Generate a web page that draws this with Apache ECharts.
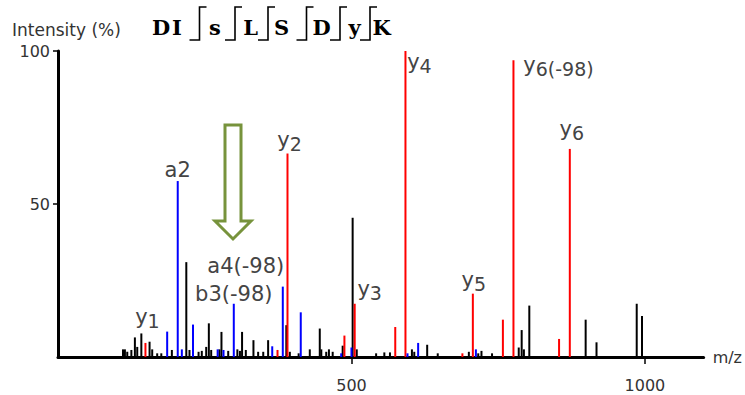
<!DOCTYPE html>
<html><head><meta charset="utf-8">
<script src="https://cdn.jsdelivr.net/npm/echarts@6.0.0/dist/echarts.min.js"></script>
<style>html,body{margin:0;padding:0;background:#fff}#c{width:745px;height:395px}</style>
</head><body><div id="c"></div>
<script>
// ---- data ----
const blackMz = [110.7,114,118,125,131,135,142,156,160.5,169,176,194,218.6,224,239.5,245,252.5,257,261,275,278.5,290,305.6,310,313.6,320,333,341,349.7,358,389,395,410,429,446,448.6,457,461.6,468,485,502,509,542,556,565.6,603,607,629,647,700,716,721.5,739.5,785,790,793.8,803,899,917.5,986,995];
const blackInt = [2.5,2.5,1.7,2.3,6.4,3.3,7.7,5,2.5,1.2,1.2,2.3,31,2.3,1.7,2,3.3,11,2.3,2.5,8.2,2,2.5,2,8.2,2.3,5.5,1.7,1.7,5.5,10.4,1.7,1.2,2.5,9.3,2.5,1.7,2.5,1.7,3.7,45.5,2.5,1.2,1.5,1.5,2.5,1.7,4,1.2,1.7,1.2,2,1.2,3.1,8.8,2.5,16.8,12.2,4.8,17.4,13.4];
const redMz = [149,374,391,488,505.5,574.6,592,689,706.8,758,776,853.7,872];
const redInt = [4.6,2.3,66.5,7,17.4,9.8,100,1.2,20.7,12.2,97,5.9,68];
const blueMz = [186,204,211,230,272,282,299.5,365,383,413.6,482.5,500,595.5,613.6,712];
const blueInt = [8.3,57.5,2.5,10.6,2.5,2.3,17.4,3.5,23,14.6,1.2,3.1,1.2,4.6,2.5];
// labelled fragment ions: m/z of the peak and its annotation
const ionMz = [149,204,391,505.5,592,706.8,776,872,383,299.5];
const ionText = ['y1','a2','y2','y3','y4','y5','y6(-98)','y6','a4(-98)','b3(-98)'];
const xTicks = [500,1000];
const yTicks = [50,100];
const sequence = ['D','I','s','L','S','D','y','K'];

// ---- styles / layout ----
const labelOffset = {
  'y1':[2,-12],'a2':[0,-1],'y2':[2,0],'y3':[15,-1],'y4':[14,24],'y5':[1,0],
  'y6(-98)':[45,18],'y6':[2,-6],'a4(-98)':[-37,-10],'b3(-98)':[0,1]
};
const FONT = 'DejaVu Sans';
function richText(t){
  const m = t.match(/^([a-z])(\d+)(.*)$/);
  if (m[1] === 'y') return '{n|' + m[1] + '}{s|' + m[2] + m[3] + '}';
  return '{n|' + t + '}';
}
function makeItems(mz, inten, color){
  return mz.map((x,i)=>{
    const item = {value:[x, inten[i]], itemStyle:{color}};
    const li = ionMz.indexOf(x);
    if (li >= 0 && ((color==='#ff0000') === ionText[li].startsWith('y'))) {
      const t = ionText[li];
      item.label = {show:true, position:'top', distance:0, offset:labelOffset[t],
        formatter: richText(t),
        rich:{ n:{fontFamily:FONT,fontSize:21,color:'#444'},
               s:{fontFamily:FONT,fontSize:19,color:'#444',padding:[8,0,0,0]} }};
    }
    return item;
  });
}
const data = [].concat(makeItems(blackMz,blackInt,'#000000'),
                       makeItems(redMz,redInt,'#ff0000'),
                       makeItems(blueMz,blueInt,'#0000ff'));
const letterX = [161,177,215,250.5,281.5,321.5,354.5,381.5];
const bracketX = [199.5,235,268,306.5,340,370];
const graphic = [];
sequence.forEach((s,i)=>graphic.push({type:'text',x:letterX[i],y:27,
  style:{text:s,font:'bold 21px "DejaVu Serif"',fill:'#000',align:'center',verticalAlign:'middle'}}));
bracketX.forEach(x=>{
  graphic.push({type:'polyline',shape:{points:[[x-10,40],[x,40],[x,7],[x+7,7]]},
    style:{stroke:'#000',lineWidth:1.6,fill:null}});
});
graphic.push({type:'text',x:12,y:30,style:{text:'Intensity (%)',font:'17px "DejaVu Sans"',fill:'#333',verticalAlign:'middle'}});
graphic.push({type:'polygon',shape:{points:[[225,125],[241,125],[241,221],[251,221],[233,239],[215,221],[225,221]]},
  style:{stroke:'#77933c',lineWidth:3,fill:'#fff',lineJoin:'miter'}});

const chart = echarts.init(document.getElementById('c'), null, {renderer:'svg'});
chart.setOption({
  animation:false,
  backgroundColor:'#fff',
  grid:{left:58,right:39,top:51,bottom:38},
  xAxis:{type:'value',min:0,max:1100,name:'m/z',nameLocation:'end',nameGap:9,
    nameTextStyle:{fontFamily:FONT,fontSize:16,color:'#333',verticalAlign:'middle'},
    axisLine:{show:true,onZero:false,lineStyle:{color:'#000',width:3}},
    axisTick:{show:true,customValues:xTicks,length:7,lineStyle:{color:'#000',width:1.5}},
    axisLabel:{customValues:xTicks,margin:20,fontFamily:FONT,fontSize:16,color:'#333',formatter:v=>String(v)},
    splitLine:{show:false}},
  yAxis:{type:'value',min:0,max:100,
    axisLine:{show:true,lineStyle:{color:'#000',width:3}},
    axisTick:{show:true,customValues:yTicks,length:5,lineStyle:{color:'#000',width:1.5}},
    axisLabel:{customValues:yTicks,margin:8,fontFamily:FONT,fontSize:16,color:'#333',formatter:v=>String(v)},
    splitLine:{show:false}},
  series:[{type:'bar',barWidth:2,data:data,z:2}],
  graphic:graphic
});
</script></body></html>
